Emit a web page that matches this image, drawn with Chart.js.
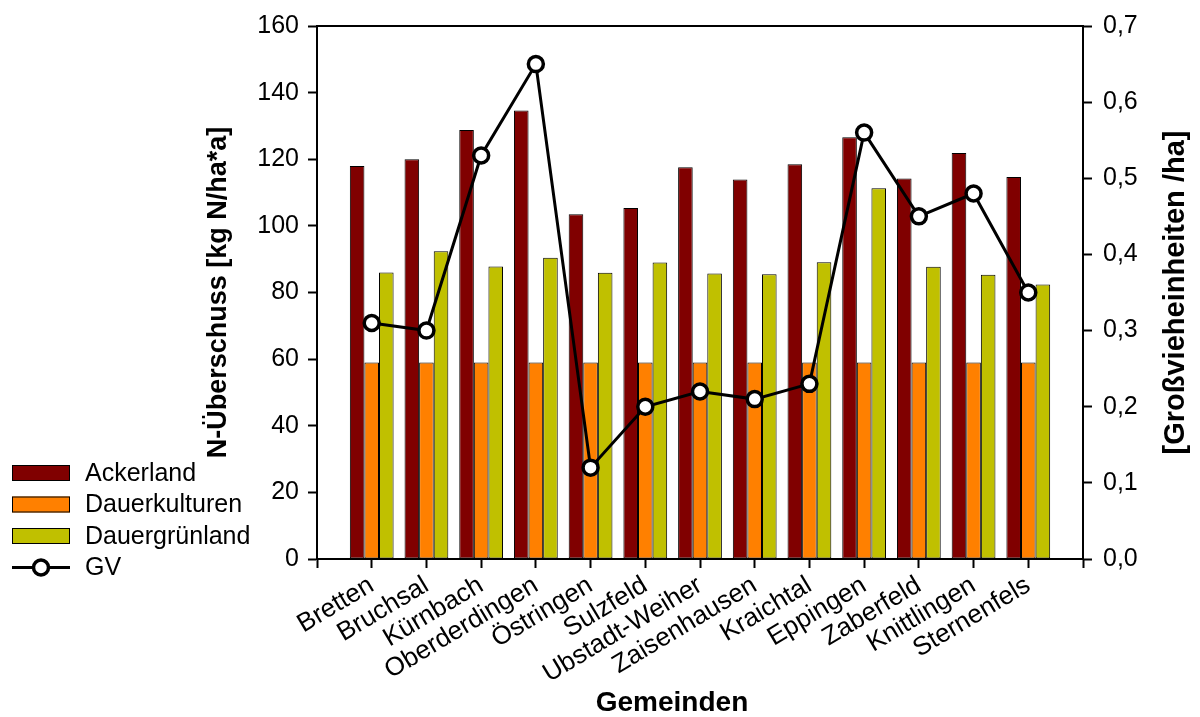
<!DOCTYPE html>
<html lang="de">
<head>
<meta charset="utf-8">
<title>N-Überschuss nach Gemeinden</title>
<script src="https://cdn.jsdelivr.net/npm/chart.js@4.4.1/dist/chart.umd.min.js"></script>
<style>
    html, body { margin: 0; padding: 0; background: #fff; }
    #wrap { width: 1200px; height: 717px; }
</style>
</head>
<body>
<div id="wrap"><canvas id="grafico"></canvas></div>
<script>
// Datos
const gemeinden = ['Bretten', 'Bruchsal', 'Kürnbach', 'Oberderdingen', 'Östringen', 'Sulzfeld',
    'Ubstadt-Weiher', 'Zaisenhausen', 'Kraichtal', 'Eppingen', 'Zaberfeld', 'Knittlingen', 'Sternenfels'];
const ackerland = [118, 120, 128.8, 134.6, 103.5, 105.4, 117.6, 113.9, 118.5, 126.6, 114.2, 121.9, 114.7];
const dauerkulturen = [59, 59, 59, 59, 59, 59, 59, 59, 59, 59, 59, 59, 59];
const dauergruenland = [86, 92.4, 87.8, 90.4, 85.9, 89, 85.7, 85.5, 89.1, 111.3, 87.7, 85.3, 82.4];
const gv = [0.31, 0.30, 0.53, 0.65, 0.12, 0.20, 0.22, 0.21, 0.23, 0.56, 0.45, 0.48, 0.35];
const ticksLinks = [0, 20, 40, 60, 80, 100, 120, 140, 160];
const ticksRechts = [0, 0.1, 0.2, 0.3, 0.4, 0.5, 0.6, 0.7];

const FONT = 'Liberation Sans, Arial, sans-serif';

function aPuntos(valores) {
    return valores.map((v, i) => ({ x: i, y: v }));
}

/**
 * Leyenda a la izquierda, título del eje derecho (de abajo hacia arriba) y título del eje x.
 */
const extrasPlugin = {
    id: 'extras',
    afterDraw(chart) {
        const ctx = chart.ctx;
        const area = chart.chartArea;

        // línea superior del marco
        ctx.save();
        ctx.strokeStyle = '#000';
        ctx.lineWidth = 2;
        ctx.beginPath();
        ctx.moveTo(area.left, area.top);
        ctx.lineTo(area.right, area.top);
        ctx.stroke();

        ctx.fillStyle = '#000';
        ctx.textAlign = 'center';
        ctx.textBaseline = 'middle';

        // título eje x
        ctx.font = 'bold 28px ' + FONT;
        ctx.fillText('Gemeinden', 672, 703);

        // título eje derecho
        ctx.translate(1176, (area.top + area.bottom) / 2);
        ctx.rotate(-Math.PI / 2);
        ctx.font = 'bold 29px ' + FONT;
        ctx.fillText('[Großvieheinheiten /ha]', 0, 0);
        ctx.restore();

        // leyenda
        ctx.save();
        ctx.font = '25px ' + FONT;
        ctx.textBaseline = 'middle';
        chart.data.datasets.forEach((ds, k) => {
            const y = 473 + k * 31.5;
            if (ds.type === 'line') {
                ctx.strokeStyle = '#000';
                ctx.lineWidth = 3;
                ctx.beginPath();
                ctx.moveTo(12, y);
                ctx.lineTo(70, y);
                ctx.stroke();
                ctx.beginPath();
                ctx.arc(41, y, 7.5, 0, Math.PI * 2);
                ctx.fillStyle = '#fff';
                ctx.fill();
                ctx.lineWidth = 3.5;
                ctx.stroke();
            } else {
                ctx.fillStyle = ds.backgroundColor;
                ctx.fillRect(12, y - 8, 58, 16);
                ctx.strokeStyle = '#000';
                ctx.lineWidth = 1;
                ctx.strokeRect(12.5, y - 7.5, 57, 15);
            }
            ctx.fillStyle = '#000';
            ctx.fillText(ds.label, 85, y + 1);
        });
        ctx.restore();
    }
};

function crearGrafico() {
    const barra = (label, datos, color) => ({
        type: 'bar',
        label: label,
        data: aPuntos(datos),
        backgroundColor: color,
        borderColor: '#000',
        borderWidth: 1,
        borderSkipped: false,
        categoryPercentage: 0.8,
        barPercentage: 1.0,
        yAxisID: 'y',
        order: 1
    });

    const ejeTicks = {
        drawOnChartArea: false,
        drawTicks: true,
        tickLength: 9,
        tickColor: '#000',
        tickWidth: 2
    };

    new Chart(document.getElementById('grafico'), {
        data: {
            datasets: [
                barra('Ackerland', ackerland, 'rgb(128,0,0)'),
                barra('Dauerkulturen', dauerkulturen, 'rgb(255,128,0)'),
                barra('Dauergrünland', dauergruenland, 'rgb(192,192,0)'),
                {
                    type: 'line',
                    label: 'GV',
                    data: aPuntos(gv),
                    borderColor: '#000',
                    borderWidth: 3,
                    pointRadius: 7.5,
                    pointBorderWidth: 3.5,
                    pointBackgroundColor: '#fff',
                    pointBorderColor: '#000',
                    tension: 0,
                    yAxisID: 'y1',
                    order: 0
                }
            ]
        },
        options: {
            responsive: true,
            maintainAspectRatio: false,
            animation: false,
            layout: { padding: { left: 198, right: 0, top: 23, bottom: 0 } },
            plugins: {
                legend: { display: false },
                tooltip: { enabled: false }
            },
            scales: {
                x: {
                    type: 'linear',
                    min: -1,
                    max: 13,
                    offset: false,
                    afterBuildTicks: (scale) => {
                        scale.ticks = [-1].concat(gemeinden.map((g, i) => i), [13]).map(v => ({ value: v }));
                    },
                    afterFit: (scale) => { scale.height = 158; },
                    ticks: {
                        autoSkip: false,
                        minRotation: 31,
                        maxRotation: 31,
                        padding: 2,
                        color: '#000',
                        font: { family: FONT, size: 26 },
                        callback: (v) => gemeinden[v] || ''
                    },
                    grid: Object.assign({ offset: false }, ejeTicks),
                    border: { color: '#000', width: 2 },
                    title: { display: false }
                },
                y: {
                    position: 'left',
                    min: 0,
                    max: 160,
                    afterBuildTicks: (scale) => { scale.ticks = ticksLinks.map(v => ({ value: v })); },
                    afterFit: (scale) => { scale.width = 119; },
                    ticks: {
                        padding: 9,
                        color: '#000',
                        font: { family: FONT, size: 25 }
                    },
                    grid: ejeTicks,
                    border: { color: '#000', width: 2 },
                    title: {
                        display: true,
                        text: 'N-Überschuss [kg N/ha*a]',
                        color: '#000',
                        font: { family: FONT, size: 27, weight: 'bold' },
                        padding: { top: 4, bottom: 4 }
                    }
                },
                y1: {
                    position: 'right',
                    min: 0,
                    max: 0.7,
                    afterBuildTicks: (scale) => { scale.ticks = ticksRechts.map(v => ({ value: v })); },
                    afterFit: (scale) => { scale.width = 117; },
                    ticks: {
                        padding: 11,
                        color: '#000',
                        font: { family: FONT, size: 25 },
                        callback: (v) => Number(v).toFixed(1).replace('.', ',')
                    },
                    grid: ejeTicks,
                    border: { color: '#000', width: 2 },
                    title: { display: false }
                }
            }
        },
        plugins: [extrasPlugin]
    });
}

crearGrafico();
</script>
</body>
</html>
